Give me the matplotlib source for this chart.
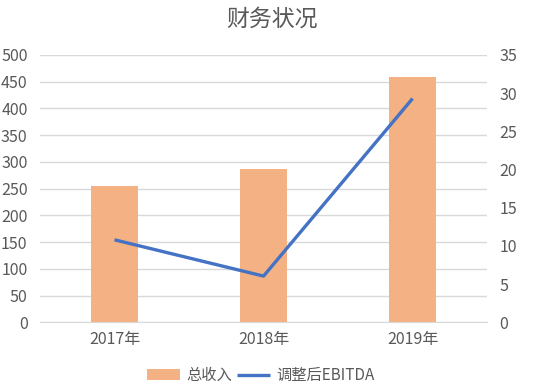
import matplotlib
matplotlib.use("Agg")
import matplotlib.pyplot as plt
import numpy as np

plt.rcParams['font.family'] = ['Noto Sans CJK SC', 'DejaVu Sans']

# veriler
yillar = ["2017年", "2018年", "2019年"]
gelir = [255, 287, 459]          # 总收入 (sol eksen)
ebitda = [10.8, 6.05, 29.3]      # 调整后EBITDA (sag eksen)

sol_ticks = [0, 50, 100, 150, 200, 250, 300, 350, 400, 450, 500]
sag_ticks = [0, 5, 10, 15, 20, 25, 30, 35]

yazi = "#595959"
izgara = "#d9d9d9"

fig = plt.figure(figsize=(5.43, 3.9), dpi=100)
ax = fig.add_axes([0.0737, 0.1736, 0.8233, 0.6854])
ax2 = ax.twinx()

x = np.arange(len(yillar))
cubuk = ax.bar(x, gelir, width=0.315, color="#f4b183", zorder=2, label="总收入")
cizgi, = ax2.plot(x, ebitda, color="#4472c4", lw=2.4, zorder=3, label="调整后EBITDA",
                  solid_capstyle="butt")

ax.set_xlim(-0.5, 2.5)
ax.set_ylim(0, 500)
ax2.set_ylim(0, 35)
ax.set_yticks(sol_ticks)
ax2.set_yticks(sag_ticks)
ax.set_xticks(x)
ax.set_xticklabels(yillar)

ax.yaxis.grid(True, color=izgara, lw=1, zorder=0)
ax.set_axisbelow(True)
for a in (ax, ax2):
    for s in a.spines.values():
        s.set_visible(False)
    a.tick_params(length=0, colors=yazi, labelsize=11.5)
ax.spines["bottom"].set_visible(True)
ax.spines["bottom"].set_color(izgara)
ax.tick_params(axis="y", pad=9)
ax2.tick_params(axis="y", pad=9)
ax.tick_params(axis="x", pad=6)

fig.suptitle("财务状况", x=0.5, y=0.98, fontsize=16.5, color=yazi)

fig.legend([cubuk, cizgi], ["总收入", "调整后EBITDA"], loc="center",
           bbox_to_anchor=(0.48, 0.037), ncol=2, frameon=False, fontsize=11,
           labelcolor=yazi, handlelength=2.2, handletextpad=0.4, columnspacing=0.3)

fig.savefig("out.png", dpi=100)
